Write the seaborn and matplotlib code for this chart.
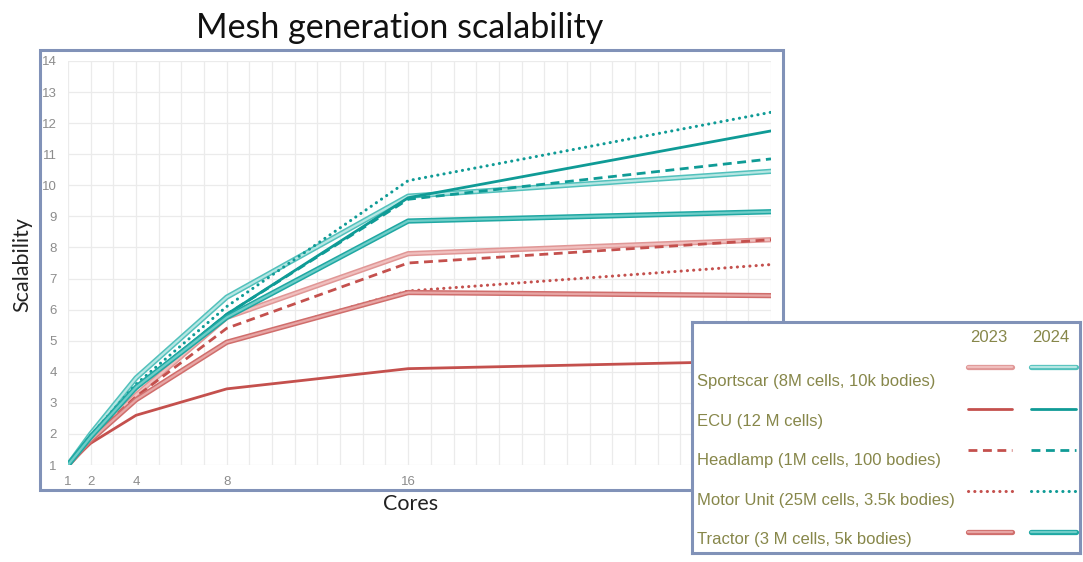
import matplotlib
matplotlib.use('Agg')
import matplotlib.pyplot as plt
import matplotlib.patheffects as pe
from matplotlib.patches import Rectangle
from matplotlib.lines import Line2D
from matplotlib.legend_handler import HandlerTuple
import seaborn as sns

# Data
cores = [1, 2, 4, 8, 16, 32]

sportscar_2023 = [1, 1.85, 3.25, 5.75, 7.8, 8.25]
ecu_2023 = [1, 1.7, 2.6, 3.45, 4.1, 4.35]
headlamp_2023 = [1, 1.85, 3.2, 5.4, 7.5, 8.25]
motor_2023 = [1, 1.8, 3.1, 4.95, 6.6, 7.45]
tractor_2023 = [1, 1.8, 3.1, 4.95, 6.55, 6.45]

sportscar_2024 = [1, 2.0, 3.8, 6.4, 9.65, 10.45]
ecu_2024 = [1, 1.95, 3.5, 5.85, 9.6, 11.75]
headlamp_2024 = [1, 1.95, 3.45, 5.85, 9.55, 10.85]
motor_2024 = [1, 1.95, 3.6, 6.1, 10.15, 12.35]
tractor_2024 = [1, 1.9, 3.5, 5.75, 8.85, 9.15]

case_labels = ['Sportscar (8M cells, 10k bodies)', 'ECU (12 M cells)',
               'Headlamp (1M cells, 100 bodies)',
               'Motor Unit (25M cells, 3.5k bodies)',
               'Tractor (3 M cells, 5k bodies)']
years = ['2023', '2024']
y_ticks = list(range(1, 15))
x_ticks = [1, 2, 4, 8, 16]  # the 32 label sits under the legend box

series = {
    '2023': [sportscar_2023, ecu_2023, headlamp_2023, motor_2023, tractor_2023],
    '2024': [sportscar_2024, ecu_2024, headlamp_2024, motor_2024, tractor_2024],
}

RED = '#c4504d'
TEAL = '#0f9b96'
OLIVE = '#87874a'
FRAME = '#8192b8'


def line_style(kind, year):
    c = RED if year == '2023' else TEAL
    if kind == 0:  # sportscar - outlined light line
        edge, fill = ('#e09796', '#f0bfbe') if year == '2023' else ('#52c1bc', '#b6e6e3')
        return dict(color=fill, linewidth=1.6, solid_capstyle='round',
                    path_effects=[pe.Stroke(linewidth=3.8, foreground=edge, capstyle='round'), pe.Normal()])
    if kind == 4:  # tractor - outlined medium line
        edge, fill = ('#d06e6c', '#e7a6a5') if year == '2023' else ('#1fa8a3', '#6fcdc8')
        return dict(color=fill, linewidth=1.6, solid_capstyle='round',
                    path_effects=[pe.Stroke(linewidth=3.8, foreground=edge, capstyle='round'), pe.Normal()])
    if kind == 1:
        return dict(color=c, linewidth=2.0, solid_capstyle='round')
    if kind == 2:
        return dict(color=c, linewidth=2.0, linestyle=(0, (3.2, 2.0)))
    return dict(color=c, linewidth=2.2, linestyle=(0, (0.05, 2.0)), dash_capstyle='round')


sns.set_theme(style='white')
plt.rcParams['font.family'] = ['Lato', 'DejaVu Sans']

fig = plt.figure(figsize=(10.83, 5.62), dpi=100)
W, H = 1083, 562
ax = fig.add_axes([68 / W, 1 - 465 / H, (771 - 68) / W, (465 - 61) / H])

lines = {}
for year in years:
    for i, vals in enumerate(series[year]):
        sns.lineplot(x=cores, y=vals, ax=ax, **line_style(i, year))
        lines[(i, year)] = ax.lines[-1]

ax.set_xlim(1, 32)
ax.set_ylim(1, 14)
ax.set_xticks(x_ticks)
ax.set_xticks(range(1, 33), minor=True)
ax.set_yticks(y_ticks)
ax.grid(which='both', color='#ebebeb', linewidth=0.9)
ax.set_axisbelow(True)
for s in ax.spines.values():
    s.set_visible(False)
ax.tick_params(axis='both', which='both', length=0, labelsize=9.5, labelcolor='#8c8c8c')
ax.tick_params(axis='y', pad=8)
ax.tick_params(axis='x', pad=8)
for lbl in ax.get_xticklabels() + ax.get_yticklabels():
    lbl.set_family(['Liberation Sans', 'DejaVu Sans'])

ax.set_xlabel('Cores', fontsize=15.5, color='#222222')
ax.xaxis.set_label_coords((411 - 68) / 703, (465 - 494) / 404)
ax.set_ylabel('Scalability', fontsize=15.5, color='#222222')
ax.yaxis.set_label_coords((32 - 68) / 703, (465 - 265) / 404)

fig.text(400 / W, 1 - 28 / H, 'Mesh generation scalability', ha='center', va='center',
         fontsize=24.5, color='#111111')

# chart frame
fig.add_artist(Rectangle((40 / W, 1 - 490 / H), 743 / W, 440 / H, transform=fig.transFigure,
                         fill=False, edgecolor=FRAME, linewidth=2.2, zorder=2))

# legend box
lax = fig.add_axes([692 / W, 1 - 553 / H, 388 / W, 231 / H])
lax.set_zorder(3)
lax.set_facecolor('white')
lax.set_xticks([])
lax.set_yticks([])
for s in lax.spines.values():
    s.set_color(FRAME)
    s.set_linewidth(2.2)

leg_font = {'family': ['Liberation Sans', 'DejaVu Sans'], 'size': 12}
for j, year in enumerate(years):
    fig.text((989 + 62 * j) / W, 1 - 338 / H, year, ha='center', va='center',
             color=OLIVE, fontproperties=leg_font)

blank = [Line2D([], [], linewidth=0) for _ in case_labels]
leg_a = fig.legend(blank, case_labels, loc='upper left',
                   bbox_to_anchor=(697 / W, 1 - 374 / H), bbox_transform=fig.transFigure,
                   frameon=False, prop=leg_font, labelcolor=OLIVE, handlelength=0,
                   handletextpad=0, borderpad=0, borderaxespad=0, labelspacing=1.475)
leg_a.set_zorder(6)

pairs = [(lines[(i, '2023')], lines[(i, '2024')]) for i in range(len(case_labels))]
leg_b = fig.legend(pairs, [' '] * len(pairs), loc='upper right',
                   bbox_to_anchor=(1076 / W, 1 - 361 / H), bbox_transform=fig.transFigure,
                   frameon=False, prop=leg_font, markerfirst=False,
                   handlelength=6.5, handletextpad=0, borderpad=0, borderaxespad=0,
                   labelspacing=1.58, handler_map={tuple: HandlerTuple(ndivide=None, pad=1.15)})
leg_b.set_zorder(6)

fig.savefig('out.png', dpi=100)
